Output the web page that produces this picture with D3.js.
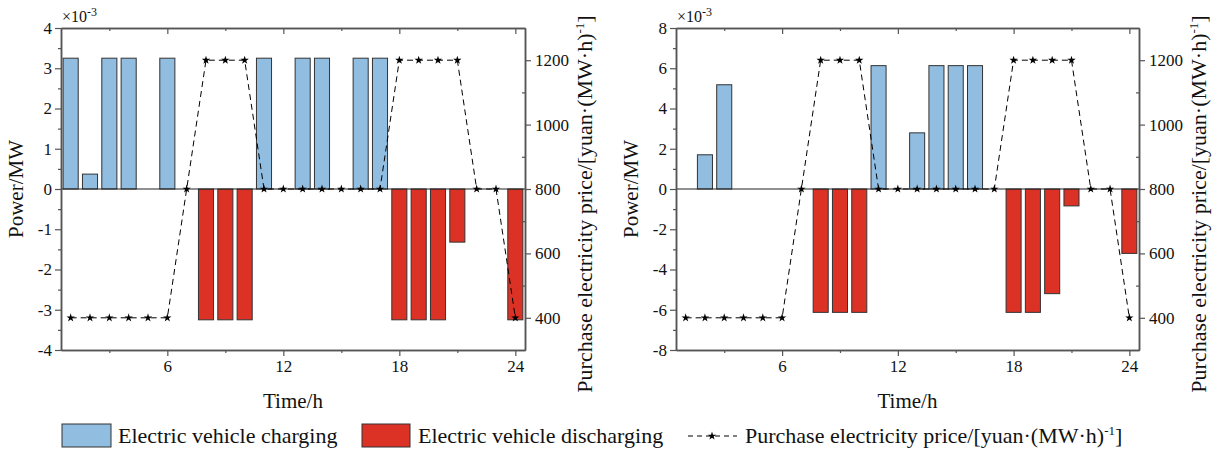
<!DOCTYPE html>
<html>
<head>
<meta charset="utf-8">
<script src="https://cdn.jsdelivr.net/npm/d3@7"></script>
<style>
  body { margin: 0; background: #fff; }
  svg text { font-family: "Liberation Serif", Tinos, "Times New Roman", Times, "DejaVu Serif", serif !important; fill: #111; }
</style>
</head>
<body>
<script>
//hours of the day
var hours = [1,2,3,4,5,6,7,8,9,10,11,12,13,14,15,16,17,18,19,20,21,22,23,24];

//left panel, power in 10^-3 MW
var chargeA = [3.25,0.37,3.25,3.25,0,3.25,0,0,0,0,3.25,0,3.25,3.25,0,3.25,3.25,0,0,0,0,0,0,0];
var dischargeA = [0,0,0,0,0,0,0,-3.25,-3.25,-3.25,0,0,0,0,0,0,0,-3.25,-3.25,-3.25,-1.32,0,0,-3.25];

//right panel, power in 10^-3 MW
var chargeB = [0,1.7,5.18,0,0,0,0,0,0,0,6.13,0,2.79,6.13,6.13,6.13,0,0,0,0,0,0,0,0];
var dischargeB = [0,0,0,0,0,0,0,-6.13,-6.13,-6.13,0,0,0,0,0,0,0,-6.13,-6.13,-5.2,-0.84,0,0,-3.2];

//purchase price, yuan/(MW·h)
var price = [400,400,400,400,400,400,800,1200,1200,1200,800,800,800,800,800,800,800,1200,1200,1200,1200,800,800,400];

//tick labels
var xTicks = [6,12,18,24],
    xMinor = [3,9,15,21],
    yTicksA = [-4,-3,-2,-1,0,1,2,3,4],
    yMinorA = [-3.5,-2.5,-1.5,-0.5,0.5,1.5,2.5,3.5],
    yTicksB = [-8,-6,-4,-2,0,2,4,6,8],
    yMinorB = [-7,-5,-3,-1,1,3,5,7],
    priceTicks = [400,600,800,1000,1200],
    priceMinor = [500,700,900,1100];

var blue = "#90bde0",
    red = "#dc3226",
    axisColor = "#555";

var svg = d3.select("body").append("svg")
    .attr("width", 1218)
    .attr("height", 455);

drawPanel({left: 61, right: 525, top: 28, bottom: 350,
    charge: chargeA, discharge: dischargeA, yMax: 4, yTicks: yTicksA, yMinor: yMinorA});
drawPanel({left: 676, right: 1139, top: 28, bottom: 350,
    charge: chargeB, discharge: dischargeB, yMax: 8, yTicks: yTicksB, yMinor: yMinorB});

function styleAxis(g){
    g.attr("font-family", null);
    g.select(".domain").attr("stroke", axisColor).attr("stroke-width", 1.5);
    g.selectAll(".tick line").attr("stroke", axisColor).attr("stroke-width", 1.2);
    g.selectAll(".tick text").attr("font-size", 17).attr("fill", "#111");
}

function drawPanel(p){
    var x = d3.scaleLinear().domain([0.5, 24.5]).range([p.left, p.right]);
    var y = d3.scaleLinear().domain([-p.yMax, p.yMax]).range([p.bottom, p.top]);
    var y2 = d3.scaleLinear().domain([300, 1300]).range([p.bottom, p.top]);
    var half = 0.39;
    var fmt = function(d){ return String(d); };
    var g = svg.append("g");

    //charging bars
    g.selectAll(".charge")
        .data(hours.filter(function(h, i){ return p.charge[i] > 0; }))
        .enter().append("rect")
        .attr("x", function(h){ return x(h - half); })
        .attr("width", function(h){ return x(h + half) - x(h - half); })
        .attr("y", function(h){ return y(p.charge[h - 1]); })
        .attr("height", function(h){ return y(0) - y(p.charge[h - 1]); })
        .attr("fill", blue)
        .attr("stroke", "#333")
        .attr("stroke-width", 1);

    //discharging bars
    g.selectAll(".discharge")
        .data(hours.filter(function(h, i){ return p.discharge[i] < 0; }))
        .enter().append("rect")
        .attr("x", function(h){ return x(h - half); })
        .attr("width", function(h){ return x(h + half) - x(h - half); })
        .attr("y", y(0))
        .attr("height", function(h){ return y(p.discharge[h - 1]) - y(0); })
        .attr("fill", red)
        .attr("stroke", "#333")
        .attr("stroke-width", 1);

    //zero line
    g.append("line")
        .attr("x1", p.left).attr("x2", p.right)
        .attr("y1", y(0)).attr("y2", y(0))
        .attr("stroke", "#222").attr("stroke-width", 1.2);

    //price line
    var line = d3.line()
        .x(function(d, i){ return x(hours[i]); })
        .y(function(d){ return y2(d); });
    g.append("path")
        .datum(price)
        .attr("d", line)
        .attr("fill", "none")
        .attr("stroke", "#000")
        .attr("stroke-width", 1)
        .attr("stroke-dasharray", "6,4");
    g.selectAll(".star")
        .data(price)
        .enter().append("path")
        .attr("d", d3.symbol().type(d3.symbolStar).size(22))
        .attr("transform", function(d, i){ return "translate(" + x(hours[i]) + "," + y2(d) + ")"; })
        .attr("fill", "#000");

    //axes
    g.append("g").attr("transform", "translate(0," + p.bottom + ")")
        .call(d3.axisBottom(x).tickValues(xTicks).tickFormat(fmt).tickSize(6).tickSizeOuter(0).tickPadding(4))
        .call(styleAxis);
    g.append("g").attr("transform", "translate(0," + p.bottom + ")")
        .call(d3.axisBottom(x).tickValues(xMinor).tickFormat("").tickSize(3).tickSizeOuter(0))
        .call(styleAxis);
    g.append("g").attr("transform", "translate(0," + p.top + ")")
        .call(d3.axisTop(x).tickValues(xTicks).tickFormat("").tickSize(-6).tickSizeOuter(0))
        .call(styleAxis);
    g.append("g").attr("transform", "translate(0," + p.top + ")")
        .call(d3.axisTop(x).tickValues(xMinor).tickFormat("").tickSize(-3).tickSizeOuter(0))
        .call(styleAxis);
    g.append("g").attr("transform", "translate(" + p.left + ",0)")
        .call(d3.axisLeft(y).tickValues(p.yTicks).tickFormat(fmt).tickSize(6).tickSizeOuter(0).tickPadding(3))
        .call(styleAxis);
    g.append("g").attr("transform", "translate(" + p.left + ",0)")
        .call(d3.axisLeft(y).tickValues(p.yMinor).tickFormat("").tickSize(3).tickSizeOuter(0))
        .call(styleAxis);
    g.append("g").attr("transform", "translate(" + p.right + ",0)")
        .call(d3.axisRight(y2).tickValues(priceTicks).tickFormat(fmt).tickSize(6).tickSizeOuter(0).tickPadding(4))
        .call(styleAxis);
    g.append("g").attr("transform", "translate(" + p.right + ",0)")
        .call(d3.axisRight(y2).tickValues(priceMinor).tickFormat("").tickSize(-3).tickSizeOuter(0))
        .call(styleAxis);

    //scale factor note
    var sf = g.append("text")
        .attr("x", p.left + 1).attr("y", 22)
        .attr("font-size", 16);
    sf.append("tspan").text("×10");
    sf.append("tspan").attr("dy", -6).attr("font-size", 12).text("-3");

    //axis titles
    g.append("text")
        .attr("x", (p.left + p.right) / 2).attr("y", 408)
        .attr("text-anchor", "middle").attr("font-size", 21)
        .text("Time/h");
    g.append("text")
        .attr("transform", "translate(" + (p.left - 38) + "," + ((p.top + p.bottom) / 2) + ") rotate(-90)")
        .attr("text-anchor", "middle").attr("font-size", 21)
        .text("Power/MW");
    var rt = g.append("text")
        .attr("transform", "translate(" + (p.right + 67) + "," + 204 + ") rotate(-90)")
        .attr("text-anchor", "middle").attr("font-size", 22);
    rt.append("tspan").text("Purchase electricity price/[yuan·(MW·h)");
    rt.append("tspan").attr("dy", -8).attr("font-size", 13).text("-1");
    rt.append("tspan").attr("dy", 8).text("]");
}

//legend
var lg = svg.append("g");
lg.append("rect").attr("x", 62).attr("y", 424).attr("width", 49).attr("height", 23)
    .attr("fill", blue).attr("stroke", "#333");
lg.append("text").attr("x", 118).attr("y", 443).attr("font-size", 22).text("Electric vehicle charging");
lg.append("rect").attr("x", 362).attr("y", 424).attr("width", 48).attr("height", 23)
    .attr("fill", red).attr("stroke", "#333");
lg.append("text").attr("x", 418).attr("y", 443).attr("font-size", 22).text("Electric vehicle discharging");
lg.append("line").attr("x1", 688).attr("x2", 737).attr("y1", 436).attr("y2", 436)
    .attr("stroke", "#000").attr("stroke-dasharray", "5,4");
lg.append("path").attr("d", d3.symbol().type(d3.symbolStar).size(22))
    .attr("transform", "translate(712,436)").attr("fill", "#000");
var lt = lg.append("text").attr("x", 745).attr("y", 443).attr("font-size", 22);
lt.append("tspan").text("Purchase electricity price/[yuan·(MW·h)");
lt.append("tspan").attr("dy", -8).attr("font-size", 13).text("-1");
lt.append("tspan").attr("dy", 8).text("]");
</script>
</body>
</html>
